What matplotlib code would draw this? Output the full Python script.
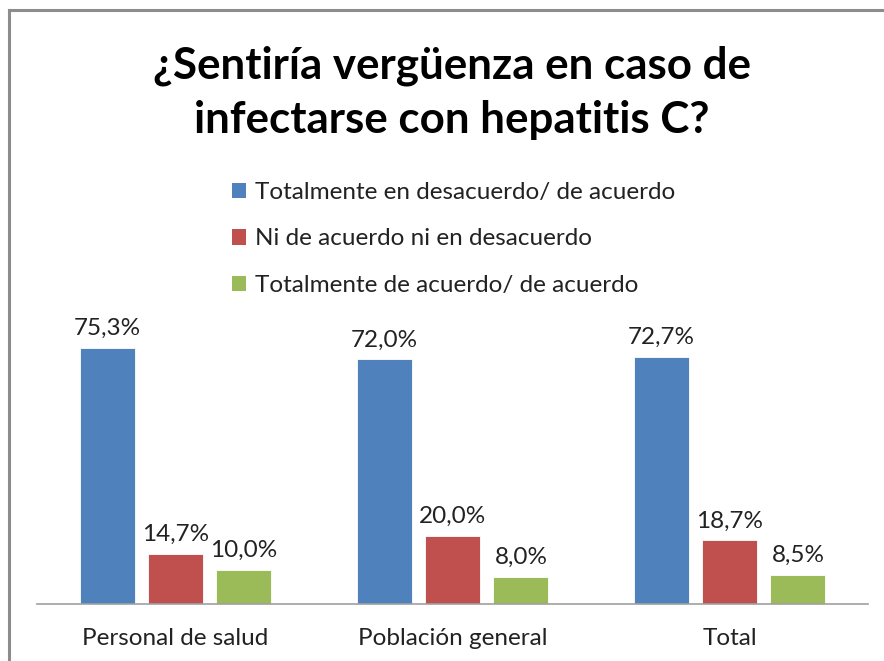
import matplotlib
matplotlib.use("Agg")
import matplotlib.pyplot as plt
from matplotlib.patches import Patch
import numpy as np

# Datos
categorias = ["Personal de salud", "Población general", "Total"]
series = ["Totalmente en desacuerdo/ de acuerdo",
          "Ni de acuerdo ni en desacuerdo",
          "Totalmente de acuerdo/ de acuerdo"]
desacuerdo = [75.3, 72.0, 72.7]
neutral = [14.7, 20.0, 18.7]
acuerdo = [10.0, 8.0, 8.5]

colores = ["#4F81BD", "#C0504D", "#9BBB59"]

plt.rcParams['font.family'] = ['Lato', 'DejaVu Sans']

fig = plt.figure(figsize=(8.84, 6.61), dpi=100)
ax = fig.add_axes([37 / 884, 57 / 661, 831 / 884, 272 / 661])

x = np.arange(len(categorias))
ancho = 0.199
paso = 0.247
for i, (vals, col) in enumerate(zip([desacuerdo, neutral, acuerdo], colores)):
    pos = x + (i - 1) * paso
    ax.bar(pos, vals, width=ancho, color=col, edgecolor="white", linewidth=0.6)
    for p, v in zip(pos, vals):
        ax.text(p, v + 2.6, f"{v:.1f}%".replace(".", ","), ha="center", va="bottom",
                fontsize=17.5, color="#222222")

ax.set_xlim(-0.5, 2.5)
ax.set_ylim(0, 80)
ax.set_yticks([])
ax.set_xticks(x)
ax.set_xticklabels(categorias, fontsize=17.5, color="#222222")
ax.tick_params(axis="x", length=0, pad=17)
for s in ["top", "right", "left"]:
    ax.spines[s].set_visible(False)
ax.spines["bottom"].set_color("#A0A0A0")
ax.spines["bottom"].set_linewidth(1.2)

# Título
fig.text(0.511, 1 - 93 / 661, "¿Sentiría vergüenza en caso de\ninfectarse con hepatitis C?",
         ha="center", va="center", fontsize=31.6, fontweight="bold", linespacing=1.42)

# Leyenda
handles = [Patch(facecolor=c, edgecolor="none") for c in colores]
fig.legend(handles, series, loc="upper left", bbox_to_anchor=(210 / 884, 1 - 160 / 661),
           frameon=False, fontsize=17.5, handlelength=0.6, handleheight=0.6,
           handletextpad=0.35, labelspacing=1.05, labelcolor="#222222")

# Borde
fig.add_artist(plt.Line2D([9 / 884, 9 / 884], [0, 1 - 10 / 661], color="#8C8C8C", lw=2.2))
fig.add_artist(plt.Line2D([9 / 884, 1], [1 - 10 / 661, 1 - 10 / 661], color="#8C8C8C", lw=2.2))

fig.savefig("out.png", dpi=100)
